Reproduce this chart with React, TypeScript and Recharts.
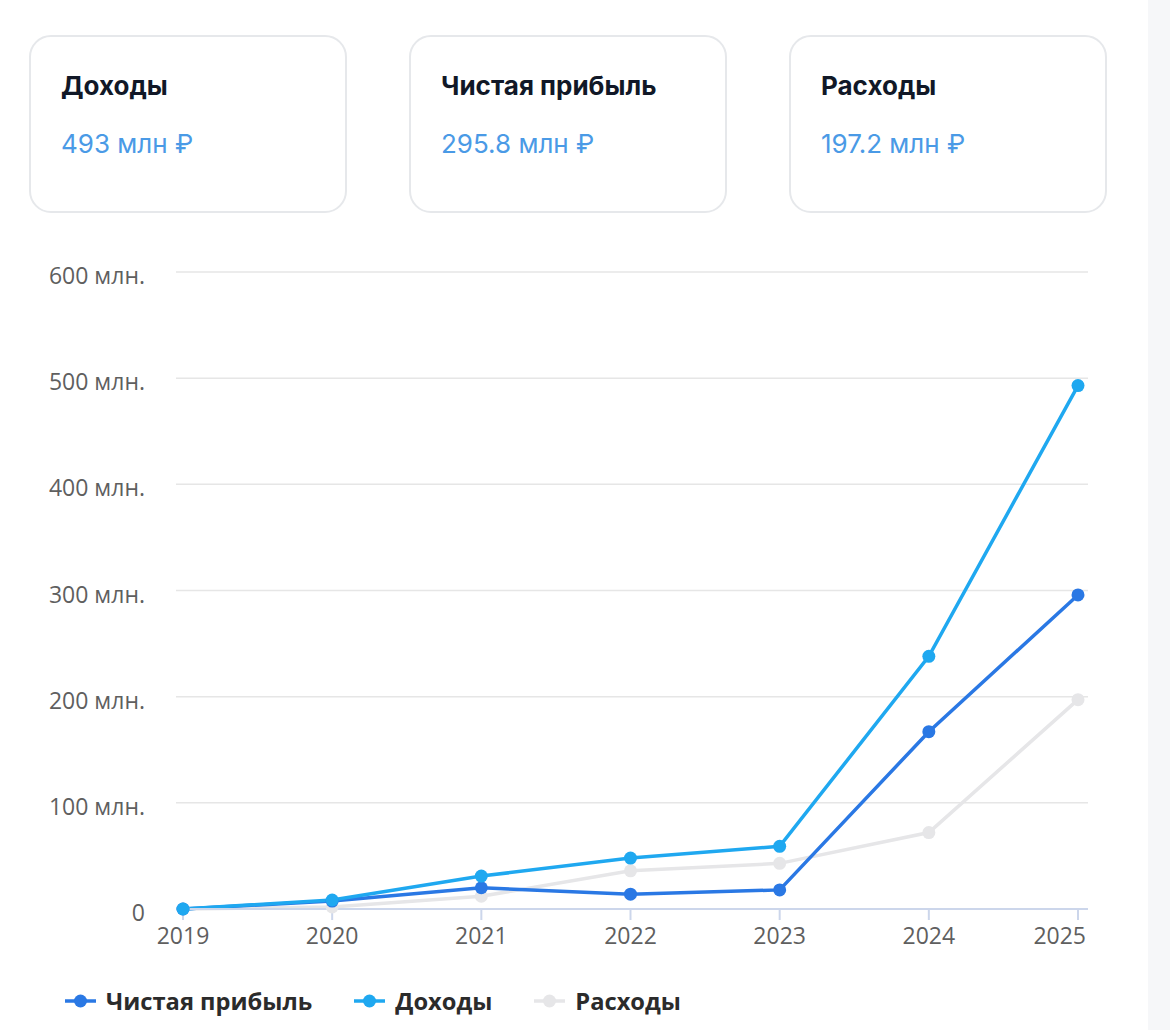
import React from 'react';
import { LineChart, Line, XAxis, YAxis, CartesianGrid } from 'recharts';

// Years on the X axis
const years = ['2019', '2020', '2021', '2022', '2023', '2024', '2025'];

// Values in millions of rubles
const profit = [0, 7.5, 20, 14, 18, 167, 295.8];
const income = [0, 8.5, 31, 48, 59, 238, 493];
const expenses = [0, 2, 12, 36, 43, 72, 197.2];

const yTicks = [0, 100, 200, 300, 400, 500, 600];

const cardTitles = ['Доходы', 'Чистая прибыль', 'Расходы'];
const cardValues = ['493 млн ₽', '295.8 млн ₽', '197.2 млн ₽'];

const SERIES = [
  { key: 'profit', label: 'Чистая прибыль', color: '#2a78e4' },
  { key: 'income', label: 'Доходы', color: '#1fa8f0' },
  { key: 'expenses', label: 'Расходы', color: '#e6e6e8' },
];

const data = years.map((year, i) => ({
  year,
  profit: profit[i],
  income: income[i],
  expenses: expenses[i],
}));

const CHART_FONT = '"Open Sans", "Liberation Sans", sans-serif';

function formatYTick(value: number): string {
  return value === 0 ? '0' : `${value} млн.`;
}

/**
 * X tick: the last label is pulled inside the chart edge
 */
function YearTick({ x, y, payload, index }: any) {
  const isLast = index === years.length - 1;
  return (
    <text
      x={isLast ? x + 8 : x}
      y={y}
      dy="0.71em"
      textAnchor={isLast ? 'end' : 'middle'}
      fontSize={23}
      fill="#5f5f5f"
      fontFamily={CHART_FONT}
    >
      {payload.value}
    </text>
  );
}

function Card({ title, value, left }: { title: string; value: string; left: number }) {
  return (
    <div
      style={{
        position: 'absolute',
        left,
        top: 35,
        width: 318,
        height: 178,
        boxSizing: 'border-box',
        border: '2px solid #e6e8eb',
        borderRadius: 22,
        background: '#fff',
        fontFamily: 'Inter, "Noto Sans", sans-serif',
      }}
    >
      <div
        style={{
          position: 'absolute',
          left: 30,
          top: 33,
          fontSize: 26,
          fontWeight: 700,
          color: '#111827',
          lineHeight: '32px',
        }}
      >
        {title}
      </div>
      <div
        style={{
          position: 'absolute',
          left: 30,
          top: 91,
          fontSize: 26,
          fontWeight: 400,
          color: '#4a9ae6',
          lineHeight: '32px',
        }}
      >
        {value}
      </div>
    </div>
  );
}

export default function App() {
  // draw order: expenses underneath, income on top
  const drawOrder = ['expenses', 'profit', 'income'];

  return (
    <div
      style={{
        position: 'absolute',
        left: 0,
        top: 0,
        width: 1170,
        height: 1030,
        background: '#fff',
        overflow: 'hidden',
      }}
    >
      <div
        style={{
          position: 'absolute',
          left: 1148,
          top: 0,
          width: 22,
          height: 1030,
          background: '#f6f7f9',
        }}
      />

      {cardTitles.map((t, i) => (
        <Card key={t} title={t} value={cardValues[i]} left={29 + i * 380} />
      ))}

      <div style={{ position: 'absolute', left: 0, top: 240 }}>
        <LineChart
          width={1148}
          height={720}
          data={data}
          margin={{ top: 32, right: 60, left: 0, bottom: 11 }}
        >
          <CartesianGrid vertical={false} stroke="#e6e6e6" strokeWidth={1.5} />
          <XAxis
            dataKey="year"
            height={40}
            padding={{ left: 7, right: 10 }}
            stroke="#ccd6eb"
            strokeWidth={2}
            tickSize={11}
            tickMargin={8}
            tick={<YearTick />}
            interval={0}
          />
          <YAxis
            width={176}
            domain={[0, 600]}
            ticks={yTicks}
            axisLine={false}
            tickLine={false}
            tickSize={6}
            tickMargin={25}
            tickFormatter={formatYTick}
            tick={{ fontSize: 23, fill: '#5f5f5f', fontFamily: CHART_FONT, dy: 4 }}
          />
          {drawOrder.map((k) => {
            const s = SERIES.find((x) => x.key === k)!;
            return (
              <Line
                key={s.key}
                type="linear"
                dataKey={s.key}
                name={s.label}
                stroke={s.color}
                strokeWidth={3.5}
                dot={{ r: 6.5, fill: s.color, stroke: s.color, strokeWidth: 0 }}
                activeDot={false}
                isAnimationActive={false}
              />
            );
          })}
        </LineChart>
      </div>

      <div
        style={{
          position: 'absolute',
          left: 65,
          top: 986,
          height: 30,
          display: 'flex',
          alignItems: 'center',
          fontFamily: CHART_FONT,
        }}
      >
        {SERIES.map((s) => (
          <div
            key={s.key}
            style={{ display: 'flex', alignItems: 'center', marginRight: 42 }}
          >
            <svg width={31} height={16} style={{ marginRight: 10 }}>
              <line x1={0} y1={8} x2={31} y2={8} stroke={s.color} strokeWidth={3.5} />
              <circle cx={15.5} cy={8} r={6.5} fill={s.color} />
            </svg>
            <span style={{ fontSize: 23.7, fontWeight: 700, color: '#2b2b2b' }}>
              {s.label}
            </span>
          </div>
        ))}
      </div>
    </div>
  );
}
